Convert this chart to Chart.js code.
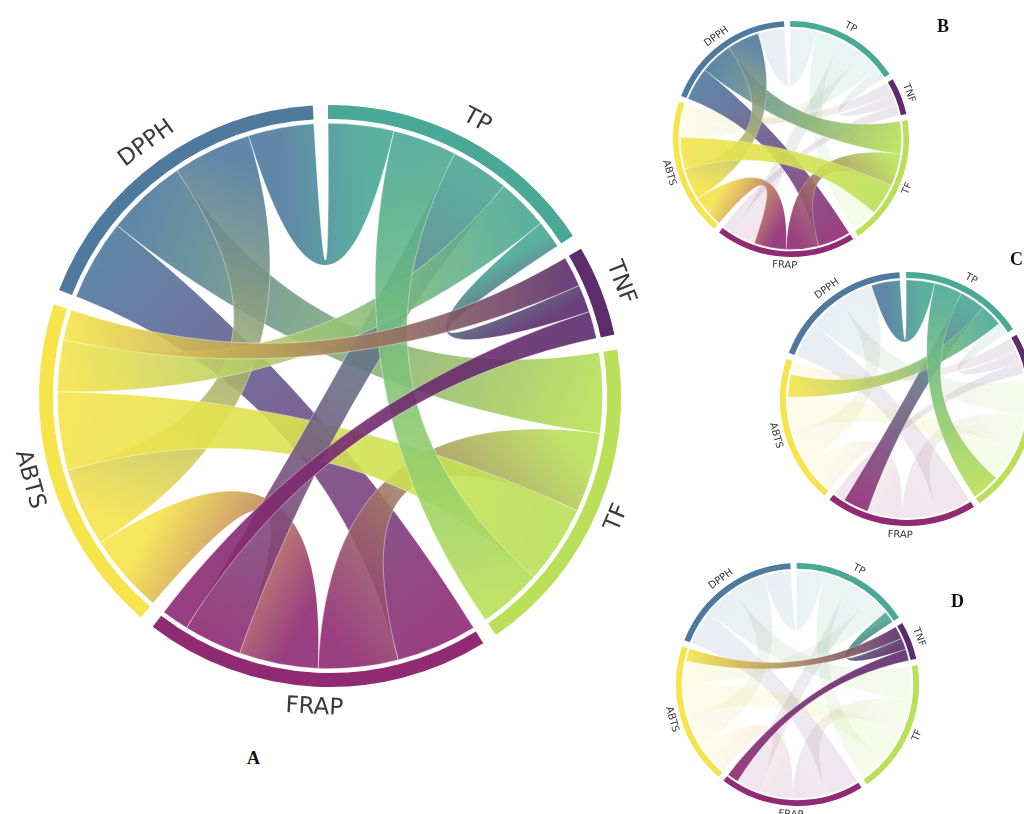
<!DOCTYPE html>
<html>
<head>
<meta charset="utf-8">
<script src="https://cdn.jsdelivr.net/npm/chart.js@4.4.1/dist/chart.umd.min.js"></script>
<style>
  html, body { margin: 0; padding: 0; background: #fff; width: 1024px; height: 814px; overflow: hidden; }
  .panel { position: absolute; }
  .tag { position: absolute; font-family: "Liberation Serif", "Times New Roman", serif; font-weight: bold; font-size: 18px; line-height: 18px; color: #111; }
</style>
</head>
<body>
<canvas id="chordA" class="panel" data-panel="A"></canvas>
<canvas id="chordB" class="panel" data-panel="B"></canvas>
<canvas id="chordC" class="panel" data-panel="C"></canvas>
<canvas id="chordD" class="panel" data-panel="D"></canvas>
<div class="tag" style="left:247px;top:749px">A</div>
<div class="tag" style="left:937px;top:17px">B</div>
<div class="tag" style="left:1010px;top:250px">C</div>
<div class="tag" style="left:951px;top:592px">D</div>
<script>
// assays, clockwise from 12 o'clock
const nodeNames = ['TP', 'TNF', 'TF', 'FRAP', 'ABTS', 'DPPH'];
const nodeColors = ['#4aa896', '#5c2c6c', '#b9e058', '#8f2a73', '#f6e44c', '#4f7a9e'];

// correlation ribbons (listed in drawing order)
const linkFrom  = ['DPPH', 'DPPH', 'DPPH', 'DPPH', 'TF',   'FRAP', 'TF',   'TP',   'TP',   'TP', 'TNF', 'TNF',  'TNF'];
const linkTo    = ['TP',   'TF',   'FRAP', 'ABTS', 'FRAP', 'ABTS', 'ABTS', 'FRAP', 'ABTS', 'TF', 'TP',  'ABTS', 'FRAP'];
const linkValue = [0.80,   0.98,   0.99,   0.96,   0.97,   0.965,  0.955,  0.71,   0.63,   0.78, 0.34,  0.37,   0.33];

// ribbons kept in full colour in the small panels
const highlightB = ['DPPH-TF', 'DPPH-FRAP', 'DPPH-ABTS', 'TF-FRAP', 'FRAP-ABTS', 'TF-ABTS'];
const highlightC = ['DPPH-TP', 'TP-FRAP', 'TP-ABTS', 'TP-TF'];
const highlightD = ['TNF-TP', 'TNF-ABTS', 'TNF-FRAP'];

const PAD_DEG = 3;

const panels = {
    A: { cx: 330, cy: 396, r: 291, pad: 50, font: 23, highlight: null },
    B: { cx: 791, cy: 139, r: 118, pad: 26, font: 10, highlight: highlightB },
    C: { cx: 907, cy: 399, r: 127, pad: 26, font: 10, highlight: highlightC },
    D: { cx: 797, cy: 684, r: 121.5, pad: 26, font: 10, highlight: highlightD }
};

const nodeTotals = nodeNames.map(n =>
    linkValue.reduce((s, v, i) => s + ((linkFrom[i] === n || linkTo[i] === n) ? v : 0), 0));
const grandTotal = nodeTotals.reduce((a, b) => a + b, 0);
const padValue = grandTotal * PAD_DEG / (360 - PAD_DEG * nodeNames.length);

// node arcs with a transparent pad after each one
const arcData = [];
const arcColors = [];
nodeNames.forEach((n, k) => {
    arcData.push(nodeTotals[k], padValue);
    arcColors.push(nodeColors[k], 'rgba(0,0,0,0)');
});

function isLit(cfg, i) {
    if (!cfg.highlight) return true;
    const a = linkFrom[i] + '-' + linkTo[i];
    const b = linkTo[i] + '-' + linkFrom[i];
    return cfg.highlight.includes(a) || cfg.highlight.includes(b);
}

function ribbonPath(ctx, cx, cy, r, kc, s, t) {
    const pt = (ang, rad) => [cx + rad * Math.cos(ang), cy + rad * Math.sin(ang)];
    ctx.beginPath();
    ctx.arc(cx, cy, r, s[0], s[1]);
    let c1 = pt(s[1], r * kc), c2 = pt(t[0], r * kc), p = pt(t[0], r);
    ctx.bezierCurveTo(c1[0], c1[1], c2[0], c2[1], p[0], p[1]);
    ctx.arc(cx, cy, r, t[0], t[1]);
    c1 = pt(t[1], r * kc); c2 = pt(s[0], r * kc); p = pt(s[0], r);
    ctx.bezierCurveTo(c1[0], c1[1], c2[0], c2[1], p[0], p[1]);
    ctx.closePath();
}

const chordPlugin = {
    id: 'chord',
    beforeDatasetsDraw(chart) {
        const cfg = panels[chart.canvas.dataset.panel];
        const arcs = chart.getDatasetMeta(0).data;
        const ctx = chart.ctx;
        const cx = arcs[0].x, cy = arcs[0].y;
        const outer = arcs[0].outerRadius;
        const rr = arcs[0].innerRadius - 0.015 * outer;

        // split each node arc between its ribbons, biggest first
        const ends = {};
        nodeNames.forEach((name, k) => {
            const arc = arcs[k * 2];
            const span = arc.endAngle - arc.startAngle;
            const own = linkValue.map((v, i) => i)
                .filter(i => linkFrom[i] === name || linkTo[i] === name)
                .sort((p, q) => linkValue[q] - linkValue[p]);
            let a = arc.startAngle;
            own.forEach(i => {
                const w = span * linkValue[i] / nodeTotals[k];
                ends[i + name] = [a, a + w];
                a += w;
            });
        });

        const order = linkValue.map((v, i) => i);
        const faded = order.filter(i => !isLit(cfg, i));
        const lit = order.filter(i => isLit(cfg, i));

        ctx.save();
        [...faded, ...lit].forEach(i => {
            const s = ends[i + linkFrom[i]];
            const t = ends[i + linkTo[i]];
            const ms = (s[0] + s[1]) / 2, mt = (t[0] + t[1]) / 2;
            const g = ctx.createLinearGradient(
                cx + rr * Math.cos(ms), cy + rr * Math.sin(ms),
                cx + rr * Math.cos(mt), cy + rr * Math.sin(mt));
            g.addColorStop(0, nodeColors[nodeNames.indexOf(linkFrom[i])]);
            g.addColorStop(1, nodeColors[nodeNames.indexOf(linkTo[i])]);
            ribbonPath(ctx, cx, cy, rr, 0.33, s, t);
            ctx.globalAlpha = isLit(cfg, i) ? 0.9 : 0.12;
            ctx.fillStyle = g;
            ctx.fill();
            ctx.globalAlpha = isLit(cfg, i) ? 0.45 : 0.3;
            ctx.strokeStyle = '#ffffff';
            ctx.lineWidth = Math.max(0.6, outer / 320);
            ctx.stroke();
        });
        ctx.restore();
    },
    afterDatasetsDraw(chart) {
        const cfg = panels[chart.canvas.dataset.panel];
        const arcs = chart.getDatasetMeta(0).data;
        const ctx = chart.ctx;
        const cx = arcs[0].x, cy = arcs[0].y;
        const rl = arcs[0].outerRadius * 1.072;
        ctx.save();
        ctx.fillStyle = '#3a3a3a';
        ctx.font = cfg.font + 'px "DejaVu Sans", sans-serif';
        ctx.textAlign = 'center';
        ctx.textBaseline = 'middle';
        nodeNames.forEach((name, k) => {
            const arc = arcs[k * 2];
            const th = (arc.startAngle + arc.endAngle) / 2;
            let phi = (th + Math.PI / 2) % (2 * Math.PI);
            if (phi < 0) phi += 2 * Math.PI;
            const rot = (phi > Math.PI / 2 && phi < 3 * Math.PI / 2) ? th - Math.PI / 2 : th + Math.PI / 2;
            ctx.save();
            ctx.translate(cx + rl * Math.cos(th), cy + rl * Math.sin(th));
            ctx.rotate(rot);
            ctx.fillText(name, 0, 0);
            ctx.restore();
        });
        ctx.restore();
    }
};

Object.keys(panels).forEach(key => {
    const cfg = panels[key];
    const canvas = document.getElementById('chord' + key);
    const size = Math.round(2 * (cfg.r + cfg.pad));
    canvas.width = size;
    canvas.height = size;
    canvas.style.left = (cfg.cx - size / 2) + 'px';
    canvas.style.top = (cfg.cy - size / 2) + 'px';

    new Chart(canvas, {
        type: 'doughnut',
        data: {
            labels: arcData.map((v, i) => i % 2 === 0 ? nodeNames[i / 2] : ''),
            datasets: [{
                data: arcData,
                backgroundColor: arcColors,
                borderWidth: 0,
                hoverOffset: 0
            }]
        },
        options: {
            responsive: false,
            animation: false,
            events: [],
            cutout: '95.2%',
            rotation: -0.4,
            layout: { padding: cfg.pad },
            plugins: {
                legend: { display: false },
                tooltip: { enabled: false }
            }
        },
        plugins: [chordPlugin]
    });
});
</script>
</body>
</html>
